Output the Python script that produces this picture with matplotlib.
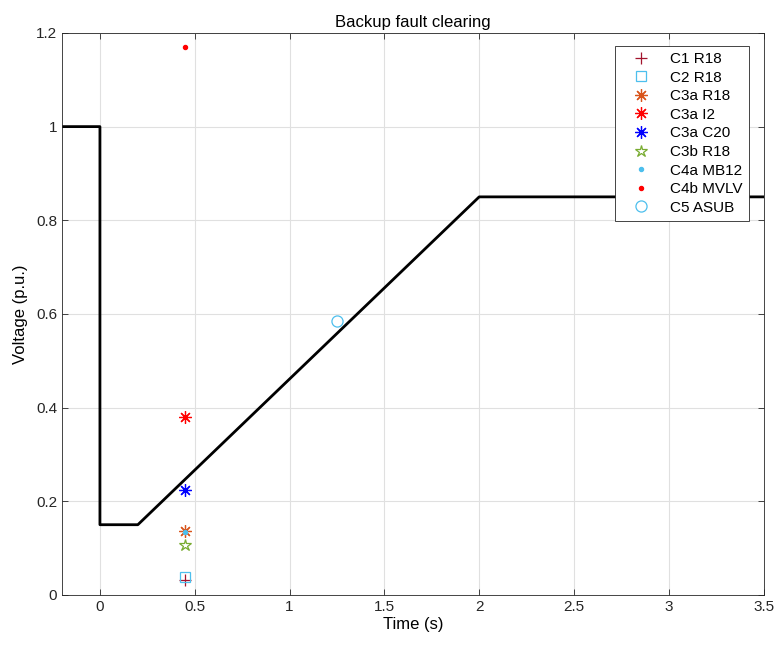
import matplotlib
matplotlib.use("Agg")
import matplotlib.pyplot as plt

plt.rcParams['font.family'] = ['Liberation Sans', 'DejaVu Sans']

# Voltage profile of backup fault clearing
profile_t = [-0.2, 0.0, 0.0, 0.2, 2.0, 3.5]
profile_v = [1.0, 1.0, 0.15, 0.15, 0.85, 0.85]

# Measured points
labels = ['C1 R18', 'C2 R18', 'C3a R18', 'C3a I2', 'C3a C20',
          'C3b R18', 'C4a MB12', 'C4b MVLV', 'C5 ASUB']
point_t = [0.45, 0.45, 0.45, 0.45, 0.45, 0.45, 0.45, 0.45, 1.25]
point_v = [0.032, 0.038, 0.137, 0.38, 0.224, 0.107, 0.135, 1.17, 0.585]

asterisk = (8, 2, 0)
styles = [
    dict(marker='+', color=(0.64, 0.08, 0.18), ms=9, mfc='none'),
    dict(marker='s', color=(0.30, 0.75, 0.93), ms=7, mfc='none'),
    dict(marker=asterisk, color=(0.85, 0.33, 0.10), ms=9, mfc='none'),
    dict(marker=asterisk, color=(1.0, 0.0, 0.0), ms=9, mfc='none'),
    dict(marker=asterisk, color=(0.0, 0.0, 1.0), ms=9, mfc='none'),
    dict(marker='*', color=(0.47, 0.67, 0.19), ms=9, mfc='none'),
    dict(marker='.', color=(0.30, 0.75, 0.93), ms=6, mfc=(0.30, 0.75, 0.93)),
    dict(marker='.', color=(1.0, 0.0, 0.0), ms=6, mfc=(1.0, 0.0, 0.0)),
    dict(marker='o', color=(0.30, 0.75, 0.93), ms=8, mfc='none'),
]

fig = plt.figure(figsize=(7.8, 6.46), dpi=100)
ax = fig.add_axes([0.0795, 0.079, 0.8995, 0.870])

ax.plot(profile_t, profile_v, color='black', lw=2, zorder=2)

for lab, t, v, st in zip(labels, point_t, point_v, styles):
    ax.plot([t], [v], linestyle='none', marker=st['marker'], color=st['color'],
            markersize=st['ms'], markerfacecolor=st['mfc'], markeredgewidth=0.9,
            label=lab, zorder=3)

ax.set_xlim(-0.2, 3.5)
ax.set_ylim(0, 1.2)
ax.set_xticks([0, 0.5, 1, 1.5, 2, 2.5, 3, 3.5])
ax.set_xticklabels(['0', '0.5', '1', '1.5', '2', '2.5', '3', '3.5'])
ax.set_yticks([0, 0.2, 0.4, 0.6, 0.8, 1.0, 1.2])
ax.set_yticklabels(['0', '0.2', '0.4', '0.6', '0.8', '1', '1.2'])
ax.grid(True, color=(0.88, 0.88, 0.88), lw=0.8, zorder=0)
ax.set_axisbelow(True)
ax.tick_params(direction='in', length=4, width=0.6, labelsize=11,
               top=True, right=True, colors=(0.15, 0.15, 0.15))
for s in ax.spines.values():
    s.set_linewidth(0.6)
    s.set_color((0.15, 0.15, 0.15))

ax.set_xlabel('Time (s)', fontsize=12, labelpad=2)
ax.set_ylabel('Voltage (p.u.)', fontsize=12, labelpad=6)
ax.set_title('Backup fault clearing', fontsize=12, pad=4)

leg = ax.legend(loc='upper right', bbox_to_anchor=(0.985, 0.985), fontsize=11,
                frameon=True, fancybox=False, edgecolor=(0.15, 0.15, 0.15),
                framealpha=1, handlelength=2.6, handletextpad=0.6,
                borderpad=0.4, labelspacing=0.3, borderaxespad=0.3)
leg.get_frame().set_linewidth(0.6)

fig.savefig('out.png', dpi=100)
